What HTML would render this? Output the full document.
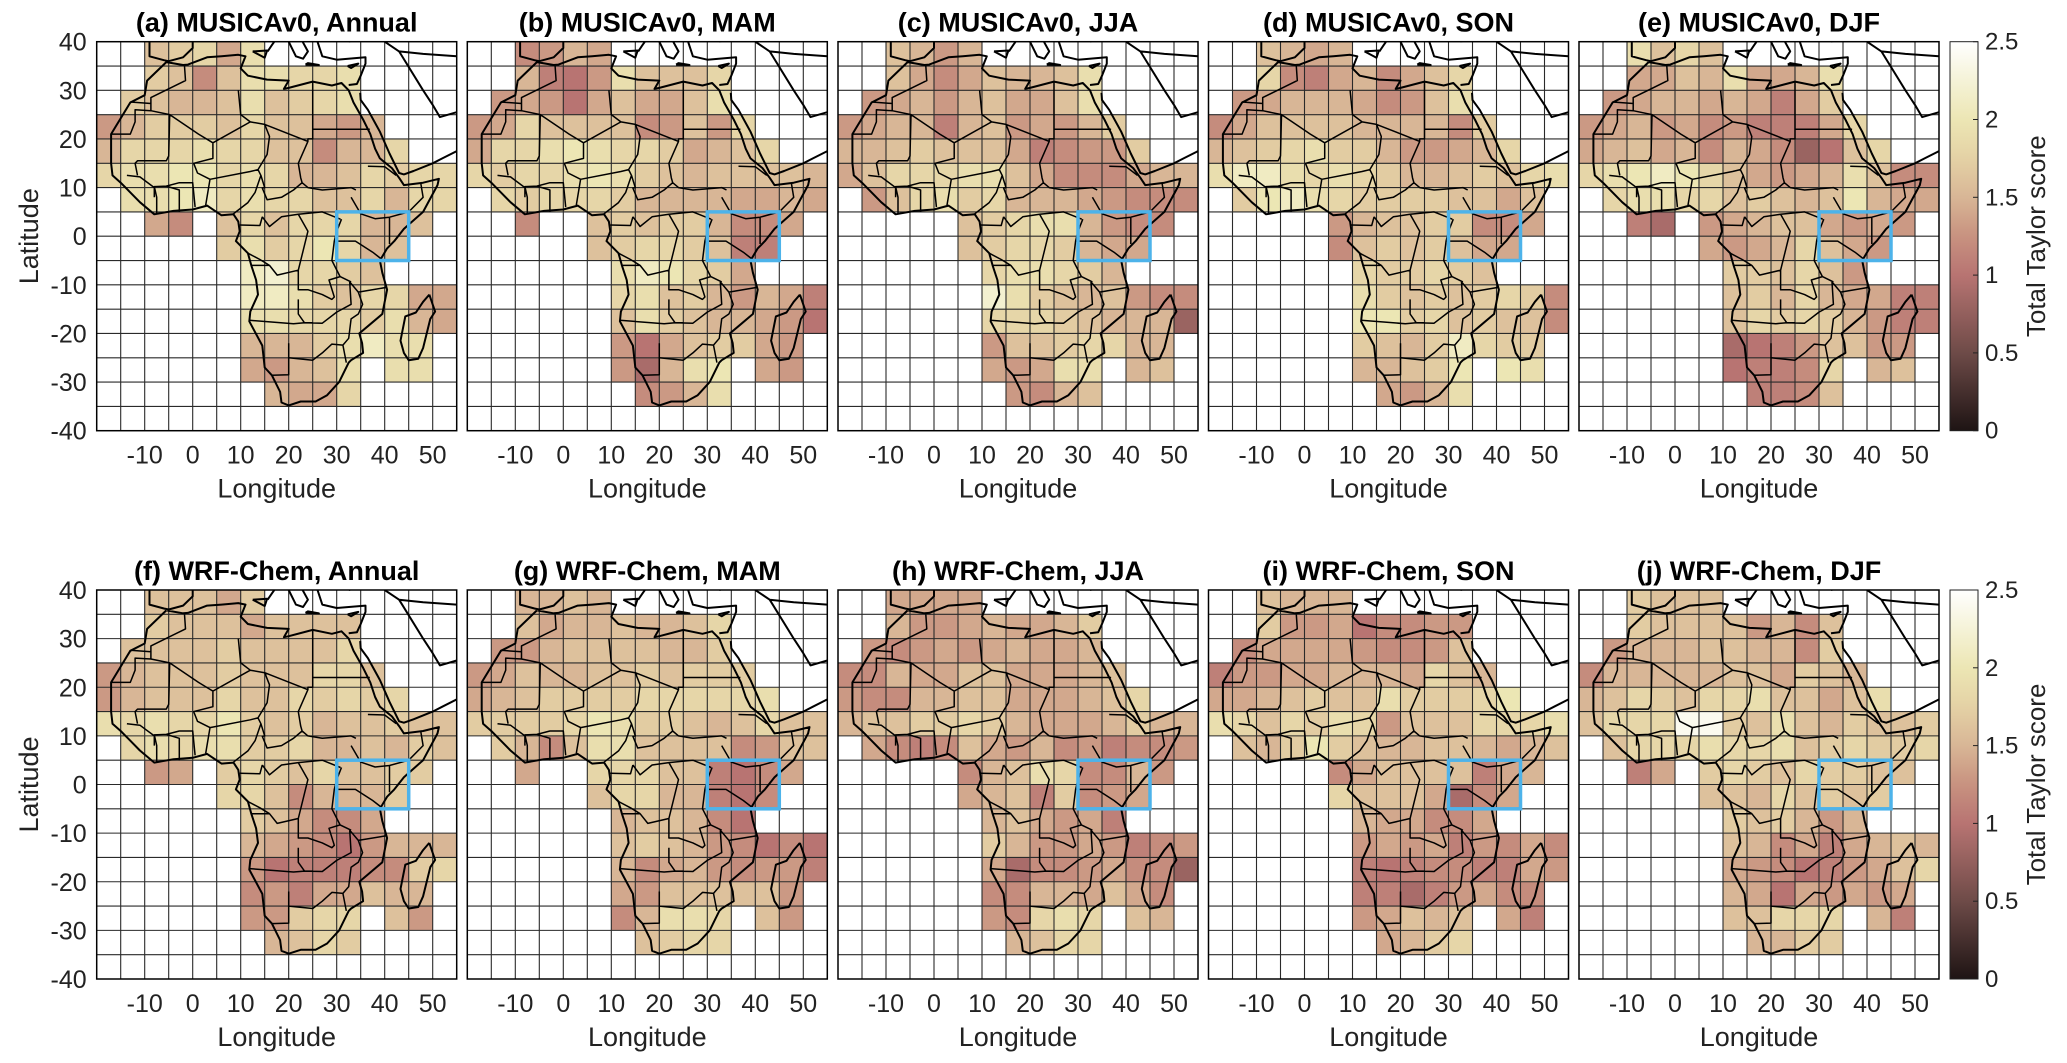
<!DOCTYPE html>
<html><head><meta charset="utf-8"><title>Total Taylor score maps</title>
<style>
html,body{margin:0;padding:0;background:#fff;}
svg{display:block;font-family:"Liberation Sans",Arial,sans-serif;}
</style></head>
<body>
<svg id="fig" width="2067" height="1063" viewBox="0 0 2067 1063" xmlns="http://www.w3.org/2000/svg"></svg>
<script>
const N = null;
const panelTitles = ["(a) MUSICAv0, Annual","(b) MUSICAv0, MAM","(c) MUSICAv0, JJA","(d) MUSICAv0, SON","(e) MUSICAv0, DJF","(f) WRF-Chem, Annual","(g) WRF-Chem, MAM","(h) WRF-Chem, JJA","(i) WRF-Chem, SON","(j) WRF-Chem, DJF"];
const lonTicks = [-10,0,10,20,30,40,50];
const latTicks = [40,30,20,10,0,-10,-20,-30,-40];
const cbTicks = [0,0.5,1,1.5,2,2.5];
const cbTickLabels = ["0","0.5","1","1.5","2","2.5"];

const panelA = [
[N,N,1.6,1.7,1.8,1.4,1.9,N,N,N,N,N,N,N,N],
[N,N,1.7,1.6,1.2,1.6,1.9,1.9,1.8,1.8,1.9,N,N,N,N],
[N,1.7,1.6,1.5,1.5,1.6,1.9,1.6,1.7,1.8,1.9,N,N,N,N],
[1.3,1.5,1.7,1.7,1.7,1.6,1.8,1.6,1.6,1.4,1.3,1.5,N,N,N],
[1.5,1.8,1.8,1.8,1.9,1.8,1.8,1.6,1.6,1.2,1.5,1.5,1.8,N,N],
[1.8,1.9,1.9,2.0,2.0,1.8,1.9,1.8,1.5,1.5,1.6,1.8,1.7,1.8,1.8],
[N,1.9,1.9,2.0,2.1,1.8,1.9,1.8,1.8,1.6,1.6,1.8,1.5,1.8,1.8],
[N,N,1.4,1.2,N,1.6,1.8,1.6,1.8,1.8,1.8,1.5,1.5,1.6,N],
[N,N,N,N,N,1.7,1.9,1.7,1.8,2.0,1.8,1.5,1.6,N,N],
[N,N,N,N,N,N,2.1,2.2,1.8,1.8,1.7,1.6,N,N,N],
[N,N,N,N,N,N,2.1,2.1,1.9,1.7,1.6,1.8,1.8,1.4,1.4],
[N,N,N,N,N,N,1.9,1.9,1.8,1.8,1.8,1.7,1.9,1.5,1.4],
[N,N,N,N,N,N,1.5,1.5,1.5,1.7,1.9,2.1,1.9,1.9,N],
[N,N,N,N,N,N,1.4,1.3,1.5,1.6,1.9,N,1.9,1.9,N],
[N,N,N,N,N,N,N,1.5,1.4,1.4,1.8,N,N,N,N],
[N,N,N,N,N,N,N,N,N,N,N,N,N,N,N]];
const panelB = [
[N,N,1.2,1.3,1.5,1.4,N,N,N,N,N,N,N,N,N],
[N,N,1.5,1.1,1.0,1.3,1.9,1.6,1.6,1.6,1.8,N,N,N,N],
[N,1.3,1.4,1.3,1.0,1.4,1.6,1.4,1.4,1.6,1.9,N,N,N,N],
[1.3,1.4,1.8,1.6,1.6,1.6,1.6,1.2,1.3,1.6,1.3,1.8,N,N,N],
[1.4,1.8,1.8,1.9,2.0,1.9,1.8,1.8,1.7,1.4,1.5,1.6,1.8,N,N],
[1.8,1.7,1.8,1.8,1.9,2.0,1.9,1.7,1.6,1.5,1.6,1.6,1.6,1.6,1.5],
[N,1.8,1.7,1.8,1.8,1.8,1.7,1.5,1.5,1.5,1.5,1.4,1.4,1.5,1.4],
[N,N,1.2,N,N,1.6,1.7,1.6,1.7,1.7,1.5,1.2,1.2,1.4,N],
[N,N,N,N,N,1.6,1.7,1.8,1.8,1.7,1.6,1.1,1.1,N,N],
[N,N,N,N,N,N,1.9,2.1,2.0,1.8,1.7,1.4,N,N,N],
[N,N,N,N,N,N,1.8,1.9,1.6,1.7,1.5,1.3,1.5,1.4,1.1],
[N,N,N,N,N,N,1.6,1.9,1.7,1.6,1.5,1.5,1.4,1.3,1.0],
[N,N,N,N,N,N,1.3,1.0,1.4,1.6,1.7,1.7,1.4,1.3,N],
[N,N,N,N,N,N,1.3,0.9,1.5,1.9,2.0,N,1.4,1.3,N],
[N,N,N,N,N,N,N,1.2,1.3,1.5,1.9,N,N,N,N],
[N,N,N,N,N,N,N,N,N,N,N,N,N,N,N]];
const panelC = [
[N,N,1.6,1.5,1.3,1.5,N,N,N,N,N,N,N,N,N],
[N,N,1.6,1.4,1.2,1.4,1.6,1.5,1.5,1.6,1.9,N,N,N,N],
[N,1.3,1.4,1.5,1.3,1.5,1.6,1.4,1.4,1.6,1.9,N,N,N,N],
[1.3,1.4,1.5,1.5,1.1,1.5,1.6,1.3,1.4,1.3,1.5,1.7,N,N,N],
[1.5,1.5,1.6,1.7,1.6,1.6,1.6,1.4,1.1,1.2,1.3,1.3,1.7,N,N],
[1.4,1.6,1.8,1.8,1.8,1.9,1.9,1.6,1.4,1.2,1.2,1.2,1.4,1.5,1.5],
[N,1.3,1.6,1.8,1.9,1.7,1.8,1.5,1.5,1.5,1.4,1.3,1.2,1.2,1.2],
[N,N,N,N,N,1.6,1.7,1.8,1.9,1.9,1.5,1.3,1.2,1.2,N],
[N,N,N,N,N,1.6,1.7,1.8,1.8,1.7,1.5,1.4,1.4,N,N],
[N,N,N,N,N,N,1.8,1.9,1.9,1.8,1.7,1.5,N,N,N],
[N,N,N,N,N,N,2.2,1.9,1.7,1.6,1.5,1.6,1.3,1.2,1.2],
[N,N,N,N,N,N,1.8,1.8,1.8,1.7,1.6,1.5,1.5,1.5,0.8],
[N,N,N,N,N,N,1.3,1.6,1.6,1.7,1.8,1.8,1.5,1.5,N],
[N,N,N,N,N,N,1.4,1.3,1.4,1.9,1.9,N,1.5,1.6,N],
[N,N,N,N,N,N,N,1.3,1.2,1.5,1.6,N,N,N,N],
[N,N,N,N,N,N,N,N,N,N,N,N,N,N,N]];
const panelD = [
[N,N,1.6,1.5,1.4,1.5,N,N,N,N,N,N,N,N,N],
[N,N,1.8,1.2,1.1,1.4,1.5,1.2,1.4,1.6,1.8,N,N,N,N],
[N,1.3,1.4,1.5,1.5,1.5,1.4,1.2,1.3,1.6,1.9,N,N,N,N],
[1.2,1.4,1.6,1.6,1.6,1.6,1.5,1.5,1.5,1.5,1.2,1.7,N,N,N],
[1.5,1.6,1.7,1.8,1.9,1.7,1.7,1.5,1.3,1.3,1.4,1.5,1.8,N,N],
[1.9,2.1,2.1,1.9,1.8,1.9,1.8,1.7,1.5,1.5,1.6,1.7,1.6,1.8,1.9],
[N,1.7,2.0,2.1,1.9,1.8,1.7,1.7,1.7,1.7,1.6,1.6,1.4,1.6,N],
[N,N,N,N,N,1.3,1.5,1.6,1.6,1.7,1.7,1.2,1.2,1.4,N],
[N,N,N,N,N,1.2,1.6,1.7,1.6,1.7,1.6,1.4,1.4,N,N],
[N,N,N,N,N,N,1.8,1.7,1.7,1.8,1.7,1.6,N,N,N],
[N,N,N,N,N,N,1.9,1.7,1.6,1.7,1.6,1.7,1.8,1.7,1.2],
[N,N,N,N,N,N,2.0,2.0,1.7,1.8,1.6,1.7,1.6,1.6,1.2],
[N,N,N,N,N,N,1.7,1.6,1.5,1.7,2.1,1.8,1.7,1.7,N],
[N,N,N,N,N,N,1.5,1.5,1.6,1.7,2.0,N,2.0,1.9,N],
[N,N,N,N,N,N,N,1.4,1.3,1.5,1.9,N,N,N,N],
[N,N,N,N,N,N,N,N,N,N,N,N,N,N,N]];
const panelE = [
[N,N,1.9,1.6,1.8,1.6,N,N,N,N,N,N,N,N,N],
[N,N,1.4,1.4,1.6,1.5,1.9,1.4,1.4,1.5,1.9,N,N,N,N],
[N,1.3,1.4,1.5,1.5,1.4,1.5,1.4,1.1,1.4,1.7,N,N,N,N],
[1.3,1.4,1.5,1.3,1.4,1.2,1.3,1.1,1.1,1.1,1.4,1.8,N,N,N],
[1.4,1.5,1.6,1.4,1.5,1.2,1.5,1.4,1.2,0.8,1.0,1.6,1.8,N,N],
[1.8,1.9,2.0,2.1,2.0,1.8,1.6,1.4,1.3,1.4,1.5,1.9,1.6,1.2,1.2],
[N,1.8,1.9,1.9,1.8,1.8,1.6,1.7,1.6,1.5,1.6,2.0,1.5,1.4,1.4],
[N,N,1.1,0.9,N,1.3,1.4,1.5,1.6,1.6,1.4,1.3,1.4,1.3,N],
[N,N,N,N,N,1.4,1.3,1.4,1.5,1.8,1.6,1.4,1.3,N,N],
[N,N,N,N,N,N,1.7,1.7,1.6,1.8,1.6,1.3,N,N,N],
[N,N,N,N,N,N,1.6,1.7,1.5,1.8,1.5,1.4,1.4,1.1,1.1],
[N,N,N,N,N,N,1.6,1.8,1.7,1.8,1.7,1.5,1.3,1.1,1.1],
[N,N,N,N,N,N,0.9,1.0,1.1,1.3,1.6,1.6,1.3,1.3,N],
[N,N,N,N,N,N,1.0,1.1,1.1,1.2,1.8,N,1.5,1.6,N],
[N,N,N,N,N,N,N,1.1,1.1,1.2,1.6,N,N,N,N],
[N,N,N,N,N,N,N,N,N,N,N,N,N,N,N]];
const panelF = [
[N,N,1.6,1.6,1.6,1.4,1.7,N,N,N,N,N,N,N,N],
[N,N,1.7,1.6,1.6,1.6,1.4,1.6,1.6,1.6,1.6,N,N,N,N],
[N,1.6,1.6,1.6,1.6,1.7,1.6,1.6,1.6,1.6,1.8,N,N,N,N],
[1.3,1.5,1.6,1.6,1.6,1.7,1.6,1.6,1.6,1.8,1.8,1.6,N,N,N],
[1.3,1.5,1.6,1.6,1.6,1.8,1.6,1.6,1.8,1.7,1.8,1.7,1.8,N,N],
[1.9,1.8,1.9,1.8,1.8,2.0,1.7,1.6,1.7,1.5,1.6,1.6,1.7,1.6,1.6],
[N,1.8,1.9,1.8,1.9,1.9,1.7,1.7,1.8,1.5,1.5,1.6,1.5,1.7,1.6],
[N,N,1.3,1.4,N,1.7,1.8,1.7,1.6,1.8,1.6,1.6,1.7,1.7,N],
[N,N,N,N,N,1.8,1.8,1.6,1.2,1.5,1.5,1.5,1.7,N,N],
[N,N,N,N,N,N,1.7,1.6,1.4,1.2,1.2,1.4,N,N,N],
[N,N,N,N,N,N,1.5,1.4,1.3,1.2,1.0,1.3,1.5,1.5,1.5],
[N,N,N,N,N,N,1.3,1.0,1.1,1.1,1.1,1.2,1.2,1.7,1.8],
[N,N,N,N,N,N,1.2,1.3,1.1,1.4,1.4,1.6,1.5,1.5,N],
[N,N,N,N,N,N,1.3,1.3,1.7,1.8,1.8,N,1.6,1.3,N],
[N,N,N,N,N,N,N,1.5,1.6,1.8,1.7,N,N,N,N],
[N,N,N,N,N,N,N,N,N,N,N,N,N,N,N]];
const panelG = [
[N,N,1.5,1.5,1.6,1.5,N,N,N,N,N,N,N,N,N],
[N,N,1.6,1.4,1.5,1.5,1.6,1.5,1.5,1.6,1.8,N,N,N,N],
[N,1.3,1.3,1.5,1.6,1.6,1.6,1.6,1.5,1.5,1.7,N,N,N,N],
[1.3,1.4,1.6,1.5,1.5,1.6,1.6,1.7,1.6,1.7,1.7,1.7,N,N,N],
[1.4,1.5,1.6,1.7,1.7,1.7,1.7,1.8,1.8,1.8,1.8,1.8,1.9,N,N],
[1.7,1.7,1.7,1.7,1.8,2.0,1.9,1.7,1.7,1.6,1.5,1.6,1.8,1.6,1.6],
[N,1.7,1.5,1.2,1.6,1.9,1.9,1.6,1.6,1.6,1.6,1.2,1.3,1.6,1.6],
[N,N,1.4,N,N,1.8,1.8,1.8,1.6,1.6,1.1,1.0,1.2,1.4,N],
[N,N,N,N,N,1.6,1.8,1.8,1.5,1.5,1.1,1.0,1.2,N,N],
[N,N,N,N,N,N,1.5,1.6,1.6,1.5,1.2,1.0,N,N,N],
[N,N,N,N,N,N,1.6,1.7,1.6,1.5,1.3,1.2,1.0,1.2,1.0],
[N,N,N,N,N,N,1.5,1.2,1.4,1.5,1.3,1.2,1.3,1.3,1.1],
[N,N,N,N,N,N,1.4,1.3,1.6,1.6,1.6,1.6,1.6,1.3,N],
[N,N,N,N,N,N,1.2,1.5,1.9,1.9,1.8,N,1.6,1.3,N],
[N,N,N,N,N,N,N,1.6,1.7,1.8,1.8,N,N,N,N],
[N,N,N,N,N,N,N,N,N,N,N,N,N,N,N]];
const panelH = [
[N,N,1.4,1.4,1.4,1.4,N,N,N,N,N,N,N,N,N],
[N,N,1.5,1.3,1.3,1.4,1.5,1.4,1.4,1.5,1.7,N,N,N,N],
[N,1.3,1.2,1.3,1.4,1.3,1.4,1.5,1.4,1.4,1.5,N,N,N,N],
[1.2,1.2,1.5,1.4,1.4,1.6,1.6,1.4,1.4,1.4,1.5,1.6,N,N,N],
[1.3,1.2,1.2,1.5,1.5,1.6,1.6,1.4,1.4,1.4,1.5,1.6,1.8,N,N],
[1.5,1.6,1.6,1.7,1.7,1.8,1.7,1.5,1.4,1.4,1.4,1.5,1.7,1.5,1.5],
[N,1.4,1.2,1.1,1.2,1.6,1.4,1.3,1.5,1.2,1.3,1.1,1.2,1.2,1.3],
[N,N,N,N,N,1.2,1.5,1.6,1.9,1.8,1.2,1.2,1.5,1.3,N],
[N,N,N,N,N,1.4,1.5,1.6,1.1,1.7,1.2,1.3,1.4,N,N],
[N,N,N,N,N,N,1.5,1.6,1.4,1.3,1.4,1.1,N,N,N],
[N,N,N,N,N,N,1.7,1.5,1.3,1.3,1.4,1.3,1.1,1.2,1.3],
[N,N,N,N,N,N,1.4,0.9,1.2,1.2,1.3,1.4,1.2,1.2,0.8],
[N,N,N,N,N,N,1.2,1.2,1.5,1.5,1.4,1.6,1.4,1.2,N],
[N,N,N,N,N,N,1.3,1.2,1.8,1.9,1.8,N,1.6,1.5,N],
[N,N,N,N,N,N,N,1.5,1.6,1.8,1.8,N,N,N,N],
[N,N,N,N,N,N,N,N,N,N,N,N,N,N,N]];
const panelI = [
[N,N,1.6,1.5,1.5,1.5,N,N,N,N,N,N,N,N,N],
[N,N,1.7,1.3,1.3,1.4,1.0,1.2,1.2,1.3,1.3,N,N,N,N],
[N,1.2,1.4,1.4,1.4,1.4,1.3,1.2,1.2,1.3,1.6,N,N,N,N],
[1.1,1.3,1.3,1.4,1.4,1.5,1.5,1.5,1.4,1.8,1.6,1.5,N,N,N],
[1.4,1.4,1.5,1.6,1.7,1.6,1.6,1.9,1.7,1.7,1.7,1.8,2.0,N,N],
[1.9,1.8,1.6,1.8,1.7,1.9,1.8,1.3,1.6,1.6,1.6,1.8,1.8,1.8,1.9],
[N,1.6,1.5,1.7,2.0,1.7,1.6,1.5,1.5,1.6,1.6,1.5,1.4,1.5,1.6],
[N,N,N,N,N,1.2,1.4,1.6,1.6,1.6,1.6,1.1,1.4,1.5,N],
[N,N,N,N,N,1.8,1.6,1.6,1.6,1.4,0.9,1.2,1.4,N,N],
[N,N,N,N,N,N,1.5,1.4,1.4,1.2,1.2,1.4,N,N,N],
[N,N,N,N,N,N,1.3,1.4,1.3,1.4,1.1,1.3,1.2,1.4,1.2],
[N,N,N,N,N,N,1.1,1.0,1.1,1.2,1.2,1.1,1.1,1.4,1.3],
[N,N,N,N,N,N,1.1,1.1,0.9,1.1,1.3,1.4,1.2,1.2,N],
[N,N,N,N,N,N,1.3,1.4,1.6,1.5,1.6,N,1.4,1.1,N],
[N,N,N,N,N,N,N,1.4,1.5,1.7,1.8,N,N,N,N],
[N,N,N,N,N,N,N,N,N,N,N,N,N,N,N]];
const panelJ = [
[N,N,1.7,1.6,1.6,1.6,N,N,N,N,N,N,N,N,N],
[N,N,1.7,1.6,1.6,1.6,1.6,1.3,1.5,1.2,1.6,N,N,N,N],
[N,1.3,1.5,1.5,1.5,1.6,1.6,1.5,1.5,1.2,1.7,N,N,N,N],
[1.2,1.5,1.5,1.5,1.5,1.5,1.6,1.6,1.4,1.7,1.6,1.5,N,N,N],
[1.5,1.6,1.8,1.7,1.6,1.8,1.8,1.9,1.6,1.6,1.4,1.6,1.9,N,N],
[1.6,1.8,1.8,1.8,2.4,2.4,1.7,1.6,1.9,1.6,1.5,1.7,1.6,1.6,1.7],
[N,1.6,1.8,1.8,1.8,1.9,1.8,1.8,1.9,1.6,1.7,1.8,1.7,1.7,1.8],
[N,N,1.1,1.4,N,1.7,1.8,1.7,1.6,1.8,1.7,1.7,1.6,1.6,N],
[N,N,N,N,N,1.6,1.6,1.5,1.8,1.6,1.7,1.6,1.7,N,N],
[N,N,N,N,N,N,1.7,1.6,1.7,1.5,1.3,1.5,N,N,N],
[N,N,N,N,N,N,1.6,1.5,1.2,1.4,1.1,1.4,1.5,1.6,1.5],
[N,N,N,N,N,N,1.4,1.3,1.2,1.0,1.1,1.3,1.4,1.6,1.8],
[N,N,N,N,N,N,1.5,1.4,1.0,1.4,1.3,1.4,1.3,1.4,N],
[N,N,N,N,N,N,1.6,1.6,1.8,1.8,1.8,N,1.5,1.1,N],
[N,N,N,N,N,N,N,1.5,1.5,1.7,1.7,N,N,N,N],
[N,N,N,N,N,N,N,N,N,N,N,N,N,N,N]];
const panels = [panelA,panelB,panelC,panelD,panelE,panelF,panelG,panelH,panelI,panelJ];

const africa = [[-5.5,35.8],[-9.5,32],[-10,29],[-13,27.5],[-17,21],[-17,15],[-16.7,12.5],[-15,11],[-13,9],[-11,7],[-8,4.5],[-4,5.2],[0,5.5],[3,6.3],[6,4.3],[8.5,4.5],[9.5,3],[9.8,1],[9,-1],[11.5,-3.5],[12.2,-6],[13.2,-9],[13.6,-12],[12,-15.5],[11.8,-17.5],[14.5,-22.5],[15,-27],[16.5,-28.6],[18.2,-32],[18.5,-34.2],[20,-34.8],[22.5,-34],[25.6,-34],[28,-32.7],[30.5,-30],[32.5,-26],[33,-25.5],[35.5,-24],[35.3,-22],[34.7,-20],[36.5,-18.5],[39.5,-16],[40.5,-11],[39.5,-7.5],[39,-5],[40.5,-2.5],[42,-1],[44,1.5],[48,5],[51,10.5],[51.3,11.8],[48,11],[44,10.5],[43,12],[41.5,14],[39,16],[38,18],[37,21],[35.5,24],[33.5,27.5],[32.5,30],[31,31.5],[29,31],[25,31.8],[20,30.5],[19,30.3],[20,32],[15.5,32.2],[11.5,33],[10,34.5],[11,37],[9.5,37.3],[6,37],[3,36.8],[-1,35.3],[-2,35.2],[-5.5,35.8]];
const madagascar = [[49.3,-12],[50.5,-15.5],[49.5,-17],[48,-23],[47,-25.2],[45,-25.5],[44,-24],[43.3,-21.5],[44.3,-16.5],[46.5,-15.7],[48,-13.5],[49.3,-12]];
const otherCoasts = [
 [[-9,40],[-9,37],[-6,36.2],[-5,36],[-2,36.8],[0,38.7],[0,40]],
 [[32.5,31.1],[34.2,31.3],[35,33],[36,35.5],[36,36.8],[30,36.3],[27,37],[26,40]],
 [[34.9,29.5],[35,28],[36.5,26],[39,21.5],[41,17],[43,13],[44,12.7],[46,13.4],[50,15],[52,16],[55,17.5]],
 [[48,30],[50,27],[51.5,24.5],[55,25.5]],
 [[20,40],[21.5,37],[23,36.5],[24,38],[22.9,40]],
 [[15.6,38],[16.5,39.3],[17,40]],
 [[12.5,38],[15.5,38.2],[15,36.7],[12.5,38]],
 [[23.5,35.3],[26.3,35.2],[24,35.6],[23.5,35.3]],
 [[32.3,35],[34.5,35.5],[33,34.6],[32.3,35]],
 [[32.5,40],[36,41]],[[40,40],[43,38],[48,37.5],[55,37]],[[43,38],[48,30]]
];
const borders = [
 [[-1.7,35],[-1.5,32],[-8.7,28.5],[-8.7,27.3]],
 [[-13,27.6],[-8.7,27.3],[-8.7,25.8],[-12,26],[-12,23.5],[-13,21],[-17,21]],
 [[-8.7,25.8],[-4.8,25],[1.2,21],[4.2,19.2]],
 [[-4.8,25],[-5,16.5],[-5.5,15.5],[-11.5,15.5],[-12,15],[-11.5,12.5]],
 [[9.5,30],[10,25],[12,23.5]],
 [[4.2,19.2],[12,23.5],[15,23],[16,20.5],[15.5,16.8],[13.6,13.7],[12,13.3],[3.6,11.7],[1,13],[0.2,15],[4.2,16],[4.2,19.2]],
 [[25,31.6],[25,22],[36.9,22]],
 [[15,23],[24,19.5],[24,20],[25,20],[25,22]],
 [[24,19.5],[22,15],[22.5,12],[22.8,11],[21,9.5],[18.5,8],[15.5,7.5],[14.5,9.9],[15,10],[14.2,12.5],[13.6,13.7]],
 [[22.8,11],[24,10],[27,9.5],[33,10],[34,9.5]],
 [[2.7,6.4],[3.6,11.7]],
 [[14.2,12.5],[13,9],[11.5,6.9],[9,5],[8.5,4.6]],
 [[14.5,4],[16,2],[18.5,4],[22,4.5],[27,5],[30.8,3.5]],
 [[12.2,-6],[16,-6],[17.6,-8],[22,-7],[22,-11],[24,-11],[27,-12],[29,-13],[29.5,-12.5],[28.4,-9],[30.7,-8.3],[29,-5],[29.5,-1],[30,1],[31,3.5]],
 [[11.8,-17.3],[21,-18],[23.3,-17.8],[25,-17.8]],
 [[22,-13],[22,-16],[23.3,-17.8],[27,-17.9],[30,-15.6],[33,-14],[32.7,-9.4]],
 [[20,-22],[20,-25],[20,-28.5],[16.5,-28.6]],
 [[20,-25],[25,-25.5],[27,-24],[29,-22.2],[31.3,-22.4],[32,-26]],
 [[29.5,-1],[33.9,-1],[37.5,-3.3],[39.2,-4.6]],
 [[41,-1.6],[41,3.9],[38,3.6],[35,4.6],[33,8]],
 [[41,3.9],[45,5],[48,8],[47.5,11]],
 [[36.5,14.4],[40,14.3],[42.4,12.5]],
 [[32.7,-9.4],[34.5,-11.5],[35.4,-14],[34.5,-16],[33,-17],[32.5,-21],[31.3,-22.4]],
 [[34.5,-11.5],[40.5,-10.5]],
 [[-8,8],[-8,10],[-11,12.2],[-13.7,12.5]],
 [[-7.5,4.5],[-7.5,8],[-8,10.2],[-5.5,10.3],[-2.8,9.5],[-2.8,5]],
 [[0.5,6],[0,11],[-2.8,11],[-5.5,10.3]],
 [[9.8,2.3],[14,2.2],[14.5,4]],
 [[11.5,-3.5],[14,-4.8],[16,-6]],
 [[22,4.5],[24,1],[23,-3],[22,-7]],
 [[30.7,-8.3],[33,-9.4]]
];

const SVGNS = "http://www.w3.org/2000/svg";
const svg = document.getElementById('fig');
function mk(tag, attrs, parent){ const e=document.createElementNS(SVGNS,tag); for(const k in attrs) e.setAttribute(k,attrs[k]); (parent||svg).appendChild(e); return e; }

const stops = [[0,[30,20,20]],[0.5,[110,75,72]],[1.0,[184,116,114]],[1.25,[200,146,128]],[1.5,[216,182,150]],[1.75,[228,210,165]],[2.0,[236,230,180]],[2.25,[245,243,215]],[2.5,[255,255,255]]];
function cmap(v){
  v=Math.max(0,Math.min(2.5,v));
  for(let i=0;i<stops.length-1;i++){
    const [a,ca]=stops[i],[b,cb]=stops[i+1];
    if(v<=b){const t=(v-a)/(b-a);return 'rgb('+ca.map((c,j)=>Math.round(c+(cb[j]-c)*t)).join(',')+')';}
  }
  return 'rgb(255,255,255)';
}

const PX = [96.7,467.3,838,1208.5,1579];
const PY = [41.7,590];
const PW = 360, PH = 389;
const LON0=-20, LON1=55, LAT0=-40, LAT1=40;

panels.forEach((grid, p)=>{
  const x0 = PX[p%5], y0 = PY[Math.floor(p/5)];
  const xs = lon => x0 + (lon-LON0)/(LON1-LON0)*PW;
  const ys = lat => y0 + (LAT1-lat)/(LAT1-LAT0)*PH;
  const g = mk('g',{});
  
  
  mk('rect',{x:x0,y:y0,width:PW,height:PH,fill:'#fff'},g);
  grid.forEach((row,r)=>{
    row.forEach((v,c)=>{
      if(v===null) return;
      const lonA = LON0 + c*5, latA = LAT1 - r*5;
      const cell = mk('rect',{x:xs(lonA),y:ys(latA),width:xs(lonA+5)-xs(lonA),height:ys(latA-5)-ys(latA),fill:cmap(v)},g);
      
      
    });
  });
  let d='';
  for(let lon=LON0+5;lon<LON1;lon+=5) d+='M'+xs(lon)+' '+y0+'V'+(y0+PH);
  for(let lat=LAT1-5;lat>LAT0;lat-=5) d+='M'+x0+' '+ys(lat)+'H'+(x0+PW);
  const gl = mk('path',{d:d,stroke:'#2a2a2a','stroke-width':1.1,fill:'none'},g);
  
  
  const poly = pts => pts.map((q,i)=>(i?'L':'M')+xs(q[0]).toFixed(1)+' '+ys(q[1]).toFixed(1)).join('');
  const clipId='clip'+p;
  const cp = mk('clipPath',{id:clipId},g); mk('rect',{x:x0,y:y0,width:PW,height:PH},cp);
  const mg = mk('g',{'clip-path':'url(#'+clipId+')'},g);
  const coast = mk('path',{d:poly(africa)+poly(madagascar)+otherCoasts.map(poly).join(''),stroke:'#000','stroke-width':2,fill:'none','stroke-linejoin':'round'},mg);
  
  
  const bd = mk('path',{d:borders.map(poly).join(''),stroke:'#000','stroke-width':1.5,fill:'none','stroke-linejoin':'round'},mg);
  
  
  const box = mk('rect',{x:xs(30),y:ys(5),width:xs(45)-xs(30),height:ys(-5)-ys(5),fill:'none',stroke:'#4db3ea','stroke-width':3.5},g);
  
  
  const fr = mk('rect',{x:x0,y:y0,width:PW,height:PH,fill:'none',stroke:'#000','stroke-width':1.5},g);
  
  
  const t = mk('text',{x:x0+PW/2,y:y0-10,'text-anchor':'middle','font-size':27,'font-weight':'bold',fill:'#000'},g);
  t.textContent = panelTitles[p];
  
  
  lonTicks.forEach(lon=>{
    const tl = mk('text',{x:xs(lon),y:y0+PH+33,'text-anchor':'middle','font-size':25,fill:'#222'},g);
    tl.textContent = String(lon);
    
    
  });
  const xt = mk('text',{x:x0+PW/2,y:y0+PH+67,'text-anchor':'middle','font-size':27,fill:'#222'},g);
  xt.textContent='Longitude';
  
  
  if(p%5===0){
    latTicks.forEach(lat=>{
      const tl = mk('text',{x:x0-10,y:ys(lat)+9,'text-anchor':'end','font-size':25,fill:'#222'},g);
      tl.textContent=String(lat);
      
      
    });
    const yt = mk('text',{x:0,y:0,'text-anchor':'middle','font-size':27,fill:'#222',transform:'translate(38,'+(y0+PH/2)+') rotate(-90)'},g);
    yt.textContent='Latitude';
    
    
  }
});

const defs = mk('defs',{});
const lg = mk('linearGradient',{id:'cbgrad',x1:0,y1:1,x2:0,y2:0},defs);
for(let i=0;i<=25;i++){ const v=i*0.1; mk('stop',{offset:(v/2.5),'stop-color':cmap(v)},lg); }
PY.forEach((y0,k)=>{
  const cx=1950, cw=28;
  const cg = mk('g',{});
  
  
  mk('rect',{x:cx,y:y0,width:cw,height:PH,fill:'url(#cbgrad)',stroke:'#222','stroke-width':1},cg);
  const cy = v => y0 + PH - v/2.5*PH;
  cbTicks.forEach((v,i)=>{
    mk('line',{x1:cx+cw-5,x2:cx+cw,y1:cy(v),y2:cy(v),stroke:'#222','stroke-width':1},cg);
    const tl = mk('text',{x:cx+cw+7,y:cy(v)+8,'font-size':24,fill:'#222'},cg);
    tl.textContent=cbTickLabels[i];
    
    
  });
  const ct = mk('text',{x:0,y:0,'text-anchor':'middle','font-size':26,fill:'#222',transform:'translate(2045,'+(y0+PH/2)+') rotate(-90)'},cg);
  ct.textContent='Total Taylor score';
  
  
});
</script>
</body></html>
